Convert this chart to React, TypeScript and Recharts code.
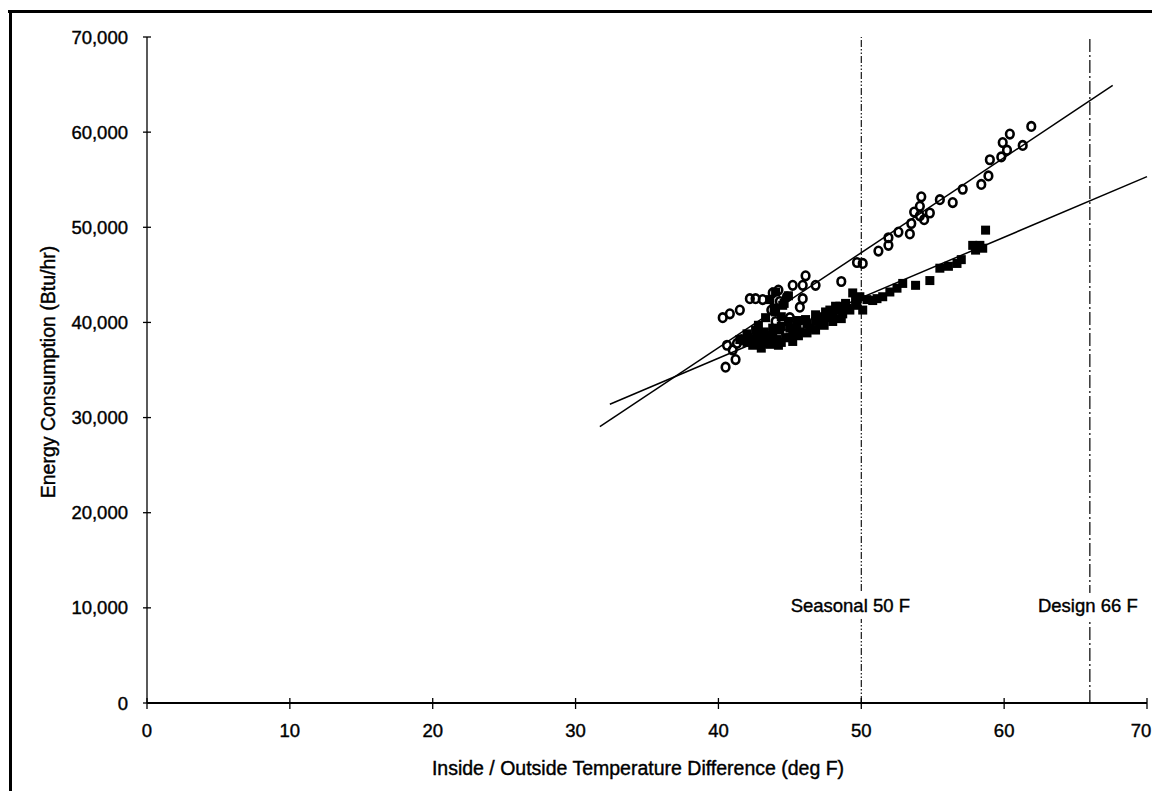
import React from "react";
import {
  ScatterChart,
  Scatter,
  XAxis,
  YAxis,
  ReferenceLine,
  ReferenceDot,
} from "recharts";

// Measured heat-loss points: open circles
const circleTemp = [
  40.3, 40.8, 41.5, 42.2, 42.6, 43.1, 43.8, 44.2, 45.2, 45.9, 46.1, 46.8, 48.6,
  45.9, 45.7, 44.8, 44.3, 43.7, 40.6, 41.0, 41.3, 41.6, 41.2, 40.5, 49.7, 50.1,
  44.0, 45.0, 51.2, 51.9, 51.9, 52.6, 53.4, 53.5, 53.7, 54.1, 54.2, 54.1, 54.4,
  54.8, 55.5, 56.4, 57.1, 58.4, 58.9, 59.0, 59.8, 60.2, 59.9, 60.4, 61.3, 61.9,
];
const circleEnergy = [
  40500, 40900, 41300, 42500, 42500, 42400, 43100, 43400, 43900, 43900, 44900,
  43900, 44300, 42500, 41600, 42700, 42200, 41300, 37600, 37100, 37800, 38200,
  36100, 35300, 46300, 46200, 40100, 40500, 47500, 48100, 48900, 49500, 49300,
  50400, 51600, 52200, 53200, 51200, 50800, 51500, 52900, 52600, 54000, 54500,
  55400, 57100, 57400, 58100, 58900, 59800, 58600, 60600,
];

// Measured heat-loss points: filled squares
const squareTemp = [
  41.5, 42.1, 42.4, 42.7, 43.1, 43.3, 43.6, 43.8, 44.1, 44.3, 44.7, 44.9, 45.2,
  45.5, 45.7, 46.1, 46.4, 46.8, 47.1, 47.5, 47.8, 48.2, 48.7, 48.9, 49.2, 43.6,
  44.0, 44.5, 44.9, 44.0, 43.3, 42.8, 47.8, 48.5, 49.4, 49.9, 49.7, 50.4, 50.1,
  51.1, 51.5, 52.0, 52.5, 52.9, 53.8, 54.8, 55.5, 56.1, 56.7, 57.0, 57.8, 58.3,
  58.5, 58.7, 43.0, 44.2, 45.2, 42.0, 42.0, 42.6, 42.6, 43.2, 43.2, 43.8, 43.8,
  44.4, 44.4, 44.4, 45.0, 45.0, 45.6, 45.6, 46.2, 46.2, 46.8, 46.8, 47.4, 47.4,
  48.0, 48.0, 48.6, 48.6, 49.0, 49.6, 49.6, 43.9, 44.6, 50.8, 58.0,
];
const squareEnergy = [
  38200, 38400, 37600, 38900, 37800, 38600, 37700, 39400, 38200, 39200, 38400,
  40100, 39000, 39700, 39000, 40300, 39400, 40800, 39900, 41100, 40500, 41700,
  40900, 42000, 41300, 42400, 43200, 41800, 42800, 41100, 40500, 39700, 41300,
  41700, 43100, 42700, 42200, 42400, 41300, 42500, 42700, 43200, 43600, 44100,
  43900, 44400, 45700, 45900, 46200, 46600, 48100, 48100, 47800, 49700, 37300,
  37600, 38000, 37900, 38800, 38200, 39200, 38300, 39000, 38000, 38900, 37900,
  39600, 40600, 38400, 39400, 38600, 40200, 38900, 39800, 39200, 40100, 39700,
  40600, 40100, 41000, 40400, 41300, 41500, 41800, 42600, 41500, 42000, 42300,
  47600,
];

// Linear trend lines (end points)
const circleFitTemp = [31.7, 67.6];
const circleFitEnergy = [29056, 64905];
const squareFitTemp = [32.4, 70];
const squareFitEnergy = [31406, 55320];

const xTicks = [0, 10, 20, 30, 40, 50, 60, 70];
const yTicks = [0, 10000, 20000, 30000, 40000, 50000, 60000, 70000];

const seasonalTemp = 50;
const designTemp = 66;
const markerLabelY = 10200;

const zip = (xs: number[], ys: number[]) =>
  xs.map((x, i) => ({ x, y: ys[i] }));

const circleData = zip(circleTemp, circleEnergy);
const squareData = zip(squareTemp, squareEnergy);

const FONT = "'Liberation Sans', Arial, Helvetica, sans-serif";
const FS = 18.5;
const TITLE_FS = 19.5;
const textStyle = {
  fontFamily: FONT,
  fill: "#000",
  stroke: "#000",
  strokeWidth: 0.4,
};

const YTick = (props: any) => {
  const { x, y, payload } = props;
  return (
    <g>
      <line x1={x - 4} x2={x + 4} y1={y} y2={y} stroke="#000" strokeWidth={1.3} />
      <text x={x - 19} y={y} dy={6.5} textAnchor="end" fontSize={FS} style={textStyle}>
        {Number(payload.value).toLocaleString("en-US")}
      </text>
    </g>
  );
};

const XTick = (props: any) => {
  const { x, y, payload } = props;
  // the last label is pulled in so it stays inside the frame
  const shift = payload.value === 70 ? -6 : 0;
  return (
    <g>
      <line x1={x} x2={x} y1={y - 5} y2={y + 6} stroke="#000" strokeWidth={1.3} />
      <text
        x={x + shift}
        y={y}
        dy={34}
        textAnchor="middle"
        fontSize={FS}
        style={textStyle}
      >
        {payload.value}
      </text>
    </g>
  );
};

const OpenCircle = (props: any) => {
  const { cx, cy } = props;
  return (
    <ellipse cx={cx} cy={cy} rx={3.8} ry={4.3} fill="none" stroke="#000" strokeWidth={2.6} />
  );
};

const FilledSquare = (props: any) => {
  const { cx, cy } = props;
  return <rect x={cx - 4.5} y={cy - 4.5} width={9} height={9} fill="#000" />;
};

const markerLabel = (text: string, width: number, shift: number) => (props: any) => {
  const { cx, cy } = props;
  return (
    <g>
      <rect x={cx + shift - width / 2} y={cy - 13} width={width} height={26} fill="#fff" />
      <text
        x={cx + shift}
        y={cy}
        dy={6.5}
        textAnchor="middle"
        fontSize={FS}
        style={textStyle}
      >
        {text}
      </text>
    </g>
  );
};

export default function App() {
  return (
    <div style={{ position: "relative", width: 1144, height: 783 }}>
      <ScatterChart
        width={1144}
        height={783}
        margin={{ top: 29, right: 5, left: 59, bottom: 48 }}
      >
        <XAxis
          type="number"
          dataKey="x"
          domain={[0, 70]}
          ticks={xTicks}
          interval={0}
          allowDataOverflow
          height={40}
          tickSize={0}
          tickMargin={0}
          tick={<XTick />}
          axisLine={{ stroke: "#000", strokeWidth: 2 }}
          label={(p: any) => {
            const vb = p.viewBox;
            return (
              <text
                x={vb.x + vb.width / 2 - 9}
                y={vb.y + 72}
                textAnchor="middle"
                fontSize={TITLE_FS}
                style={textStyle}
              >
                Inside / Outside Temperature Difference (deg F)
              </text>
            );
          }}
        />
        <YAxis
          type="number"
          dataKey="y"
          domain={[0, 70000]}
          ticks={yTicks}
          interval={0}
          allowDataOverflow
          width={80}
          tickSize={0}
          tickMargin={0}
          tick={<YTick />}
          axisLine={{ stroke: "#000", strokeWidth: 1.3 }}
          label={(p: any) => {
            const vb = p.viewBox;
            const cx = 40;
            const cy = vb.y + vb.height / 2 + 2;
            return (
              <text
                x={cx}
                y={cy}
                transform={`rotate(-90 ${cx} ${cy})`}
                textAnchor="middle"
                dominantBaseline="central"
                fontSize={TITLE_FS}
                style={textStyle}
              >
                Energy Consumption (Btu/hr)
              </text>
            );
          }}
        />
        <ReferenceLine
          x={seasonalTemp}
          stroke="#000"
          strokeWidth={1.1}
          strokeDasharray="7 2 1.5 2 1.5 2"
        />
        <ReferenceLine
          x={designTemp}
          stroke="#000"
          strokeWidth={1.2}
          strokeDasharray="13 3 2 3"
        />
        <ReferenceDot
          x={seasonalTemp}
          y={markerLabelY}
          r={0}
          shape={markerLabel("Seasonal 50 F", 126, -11)}
        />
        <ReferenceDot
          x={designTemp}
          y={markerLabelY}
          r={0}
          shape={markerLabel("Design 66 F", 112, -2)}
        />
        <ReferenceLine
          segment={[
            { x: squareFitTemp[0], y: squareFitEnergy[0] },
            { x: squareFitTemp[1], y: squareFitEnergy[1] },
          ]}
          stroke="#000"
          strokeWidth={1.5}
        />
        <ReferenceLine
          segment={[
            { x: circleFitTemp[0], y: circleFitEnergy[0] },
            { x: circleFitTemp[1], y: circleFitEnergy[1] },
          ]}
          stroke="#000"
          strokeWidth={1.5}
        />
        <Scatter data={squareData} shape={<FilledSquare />} isAnimationActive={false} />
        <Scatter data={circleData} shape={<OpenCircle />} isAnimationActive={false} />
      </ScatterChart>
      <div
        style={{
          position: "absolute",
          left: 0,
          top: 2,
          width: 1144,
          height: 3,
          background: "#000",
        }}
      />
      <div
        style={{
          position: "absolute",
          left: 1,
          top: 2,
          width: 3,
          height: 781,
          background: "#000",
        }}
      />
    </div>
  );
}
